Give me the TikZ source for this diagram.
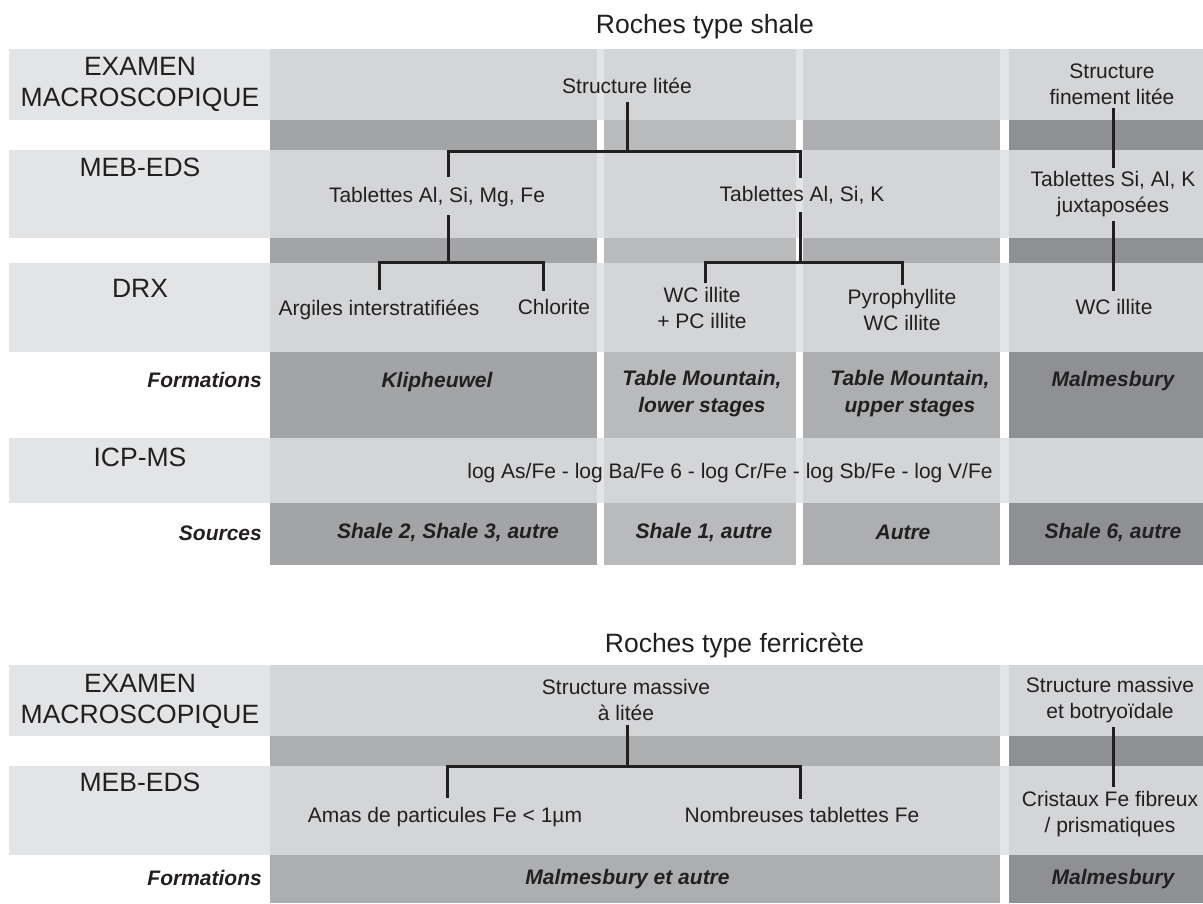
\documentclass[tikz,border=0pt]{standalone}
\usepackage{fontspec}
\setmainfont{Liberation Sans}
\usetikzlibrary{positioning}
\definecolor{rowlight}{HTML}{E3E4E5}
\definecolor{celllight}{HTML}{D4D5D7}
\definecolor{darkA}{HTML}{A3A4A6}
\definecolor{darkB}{HTML}{B9BABC}
\definecolor{darkC}{HTML}{ACAEB0}
\definecolor{darkD}{HTML}{8F9093}
\definecolor{inkgray}{HTML}{231F20}
\tikzset{
  x=1pt, y=-1pt,
  txt/.style={font=\fontsize{21}{26}\selectfont, align=center, inner sep=0pt, outer sep=8pt, text=inkgray},
  twoline/.style={txt, outer sep=4pt},
  head/.style={font=\fontsize{26.5}{31}\selectfont, align=center, inner sep=0pt, text=inkgray},
  lab/.style={font=\fontsize{21}{26}\selectfont\bfseries\itshape, anchor=east, inner sep=0pt, text=inkgray},
  frm/.style={font=\fontsize{21}{27}\selectfont\bfseries\itshape, align=center, inner sep=0pt, text=inkgray},
  tree/.style={draw=inkgray, line width=3pt},
}

\begin{document}
\begin{tikzpicture}
    \useasboundingbox (0,0) rectangle (1203,903);

    % shale table: light rows
    \foreach \ya/\yb in {49/120, 150/238, 263/352, 438/503} {
      \fill[rowlight] (9,\ya) rectangle (1203,\yb);
      \foreach \xa/\xb in {270/597, 604/796, 803/1000, 1009/1203}
        \fill[celllight] (\xa,\ya) rectangle (\xb,\yb);
    }
    % shale table: dark rows
    \foreach \ya/\yb in {120/150, 238/263, 352/438, 503/565}
      \foreach \xa/\xb/\col in {270/597/darkA, 604/796/darkB, 803/1000/darkC, 1009/1203/darkD}
        \fill[\col] (\xa,\ya) rectangle (\xb,\yb);

    % ferricrete table: light rows
    \foreach \ya/\yb in {665/736, 766/855} {
      \fill[rowlight] (9,\ya) rectangle (1203,\yb);
      \foreach \xa/\xb in {270/1000, 1009/1203}
        \fill[celllight] (\xa,\ya) rectangle (\xb,\yb);
    }
    % ferricrete table: dark rows
    \foreach \ya/\yb in {736/766, 855/903}
      \foreach \xa/\xb/\col in {270/1000/darkC, 1009/1203/darkD}
        \fill[\col] (\xa,\ya) rectangle (\xb,\yb);

    % titles
    \node[head] (shaletitle) at (705,27) {Roches type shale};
    \node[head] (ferrtitle) at (734.5,645) {Roches type ferricrète};

    % row labels
    \node[head] (examS) at (140,84.5) {EXAMEN\\MACROSCOPIQUE};
    \node[head] (mebS) at (140,167) {MEB-EDS};
    \node[head] (drxS) at (140,288) {DRX};
    \node[lab] (formS) at (262,380) {Formations};
    \node[head] (icpS) at (140,457) {ICP-MS};
    \node[lab] (srcS) at (262,533) {Sources};
    \node[head] (examF) at (140,701) {EXAMEN\\MACROSCOPIQUE};
    \node[head] (mebF) at (140,782) {MEB-EDS};
    \node[lab] (formF) at (262,878) {Formations};

    % shale cells
    \node[txt] (strlit) at (627,86) {Structure litée};
    \node[twoline] (strfin) at (1112,84) {Structure\\finement litée};
    \node[txt] (tabA) at (437,197) {Tablettes Al, Si, Mg, Fe};
    \node[txt] (tabB) at (802,195) {Tablettes Al, Si, K};
    \node[twoline] (tabC) at (1113,194.5) {Tablettes Si, Al, K\\juxtaposées};
    \node[txt] (argil) at (379,309.5) {Argiles interstratifiées};
    \node[txt] (chlor) at (554,307) {Chlorite};
    \node[twoline] (wcpc) at (702,308) {WC illite\\+ PC illite};
    \node[twoline] (pyro) at (902,309.5) {Pyrophyllite\\WC illite};
    \node[txt] (wcill) at (1114,307) {WC illite};
    \node[frm] (klip) at (437,382) {Klipheuwel};
    \node[frm] (tmlow) at (702,393.5) {Table Mountain,\\lower stages};
    \node[frm] (tmup) at (910,393.5) {Table Mountain,\\upper stages};
    \node[frm] (malmS) at (1113,381) {Malmesbury};
    \node[txt] (icp) at (730,473) {log As/Fe - log Ba/Fe 6 - log Cr/Fe - log Sb/Fe - log V/Fe};
    \node[frm] (srcA) at (448,533) {Shale 2, Shale 3, autre};
    \node[frm] (srcB) at (704,533) {Shale 1, autre};
    \node[frm] (srcC) at (903,532) {Autre};
    \node[frm] (srcD) at (1113,533) {Shale 6, autre};

    % ferricrete cells
    \node[twoline] (strmas) at (626,700) {Structure massive\\à litée};
    \node[twoline] (strbot) at (1110,700) {Structure massive\\et botryoïdale};
    \node[txt] (amas) at (445,817.5) {Amas de particules Fe < 1µm};
    \node[txt] (nomb) at (802,815) {Nombreuses tablettes Fe};
    \node[twoline] (crist) at (1110,813.7) {Cristaux Fe fibreux\\/ prismatiques};
    \node[frm] (malmA) at (627.5,879) {Malmesbury et autre};
    \node[frm] (malmF) at (1113,879) {Malmesbury};

    % joints
    \coordinate (jS) at (627,151);
    \coordinate (jA) at (448,262);
    \coordinate (jB) at (800,262);
    \coordinate (jF) at (627,766);

    % shale tree
    \draw[tree] (strlit.south -| jS) -- (jS);
    \draw[tree] ([yshift=2pt]tabA.north -| jA) |- (jS) -| (tabB.north -| jB);
    \draw[tree] (tabA.south -| jA) -- (jA);
    \draw[tree] ([yshift=2pt]argil.north) |- (jA) -| ([xshift=-11pt]chlor.north);
    \draw[tree] (tabB.south -| jB) -- (jB);
    \draw[tree] ([xshift=3pt]wcpc.north) |- (jB) -| (pyro.north);
    \draw[tree] ([xshift=1pt]strfin.south) -- ([xshift=1pt]strfin.south |- tabC.north);
    \draw[tree] (tabC.south) -- (tabC.south |- wcill.north);

    % ferricrete tree
    \draw[tree] (strmas.south -| jF) -- (jF);
    \draw[tree] ([yshift=2pt]amas.north -| 447,0) |- (jF) -| (nomb.north -| 800,0);
    \draw[tree] ([xshift=3pt]strbot.south) -- ([xshift=3pt]strbot.south |- crist.north);

\end{tikzpicture}
\end{document}
